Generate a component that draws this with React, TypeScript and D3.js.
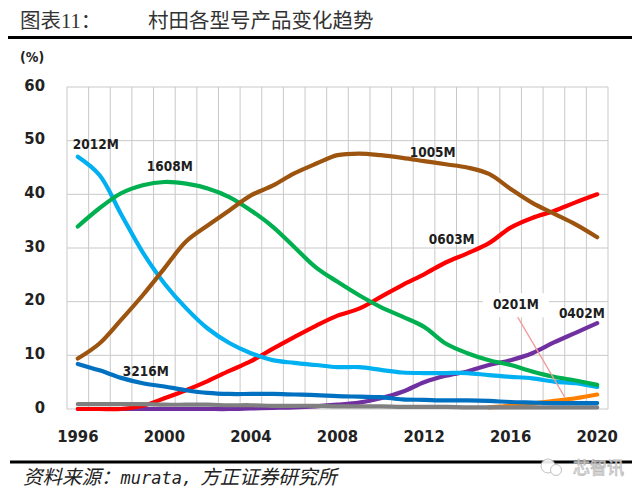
import * as d3 from "d3";

// categories (years)
const years = [
  1996, 1997, 1998, 1999, 2000, 2001, 2002, 2003, 2004, 2005, 2006, 2007, 2008,
  2009, 2010, 2011, 2012, 2013, 2014, 2015, 2016, 2017, 2018, 2019, 2020,
];
const xTickYears = [1996, 2000, 2004, 2008, 2012, 2016, 2020];
const yTicks = [0, 10, 20, 30, 40, 50, 60];

// share of each case size, % (null = not shown)
const s0402M = [0, 0, 0, 0, 0, 0, 0, 0, 0.1, 0.2, 0.3, 0.5, 0.8, 1.2, 2.0, 3.2, 5.0, 6.2, 7.0, 8.2, 9.1, 10.4, 12.4, 14.2, 16.0];
const s0201M = [null, null, null, null, null, null, null, null, null, null, null, null, null, null, null, null, null, null, null, 0.3, 0.6, 1.0, 1.5, 2.0, 2.7];
const s0603M = [0, 0, 0, 0.6, 2.0, 3.5, 5.2, 7.1, 8.9, 11.2, 13.4, 15.5, 17.4, 18.7, 20.9, 23.1, 25.1, 27.3, 29.0, 30.9, 33.8, 35.6, 36.9, 38.5, 40.0];
const sOther = [0.9, 0.9, 0.9, 0.9, 0.8, 0.8, 0.8, 0.7, 0.7, 0.6, 0.6, 0.6, 0.5, 0.5, 0.5, 0.4, 0.4, 0.4, 0.3, 0.3, 0.3, 0.3, 0.3, 0.3, 0.3];
const s3216M = [8.4, 7.2, 5.8, 4.8, 4.2, 3.5, 3.0, 2.8, 2.8, 2.8, 2.7, 2.6, 2.4, 2.3, 2.2, 1.8, 1.7, 1.6, 1.6, 1.5, 1.3, 1.2, 1.1, 1.1, 1.1];
const s2012M = [47, 43.6, 36.3, 29.2, 23.4, 18.8, 15.0, 12.3, 10.4, 9.1, 8.6, 8.2, 7.8, 7.8, 7.3, 6.8, 6.7, 6.7, 6.7, 6.3, 6.0, 5.7, 5.1, 4.8, 4.1];
const s1608M = [34, 37.4, 40.2, 41.7, 42.3, 42.0, 41.1, 39.5, 37.0, 34.0, 30.2, 26.4, 23.7, 21.2, 19.0, 17.2, 15.3, 12.2, 10.4, 9.1, 8.2, 7.0, 6.0, 5.3, 4.5];
const s1005M = [9.4, 12.2, 16.6, 21.2, 26.2, 31.2, 34.2, 37.0, 39.8, 41.6, 43.9, 45.7, 47.3, 47.6, 47.3, 46.8, 46.2, 45.6, 45.0, 43.8, 41.0, 38.4, 36.4, 34.4, 32.0];

// draw order: bottom first
const series = [
  { name: "0201M", color: "#FF8000", values: s0201M },
  { name: "0402M", color: "#7030A0", values: s0402M },
  { name: "0603M", color: "#FF0000", values: s0603M },
  { name: "other", color: "#808080", values: sOther },
  { name: "3216M", color: "#0070C0", values: s3216M },
  { name: "2012M", color: "#00B0F0", values: s2012M },
  { name: "1608M", color: "#00B050", values: s1608M },
  { name: "1005M", color: "#9C540F", values: s1005M },
];

// label anchors in data space (year, value at baseline)
const labels = [
  { text: "2012M", year: 1995.77, value: 48.4 },
  { text: "1608M", year: 1999.19, value: 44.4 },
  { text: "1005M", year: 2011.34, value: 47.0 },
  { text: "0603M", year: 2012.22, value: 30.7 },
  { text: "3216M", year: 1998.08, value: 6.1 },
  { text: "0201M", year: 2015.18, value: 18.6, boxed: true },
  { text: "0402M", year: 2018.23, value: 17.0 },
];

const W = 640;
const H = 496;
const plot = { left: 67, right: 608, top: 87, bottom: 409 };
const tickFont = "'DejaVu Sans Condensed', 'DejaVu Sans', sans-serif";

export default function App() {
  const xBand = d3
    .scaleBand<number>()
    .domain(years)
    .range([plot.left, plot.right])
    .paddingInner(0)
    .paddingOuter(0);
  const bw = xBand.bandwidth();
  const xAt = (yr: number) => (xBand(years[0]) as number) + bw / 2 + (yr - years[0]) * bw;
  const y = d3.scaleLinear().domain([0, 60]).range([plot.bottom, plot.top]);

  const line = d3
    .line<number | null>()
    .defined((d) => d != null)
    .x((_, i) => xAt(years[i]))
    .y((d) => y(d as number))
    .curve(d3.curveCatmullRom.alpha(0.5));

  const vLines = years.map((yr) => xBand(yr) as number).concat([plot.right]);

  return (
    <svg
      width={W}
      height={H}
      style={{ position: "absolute", left: 0, top: 0, background: "#fff" }}
    >
      {/* title */}
      <text
        x={20}
        y={28}
        fontSize={20.5}
        fill="#333"
        fontFamily="'Liberation Serif', 'Noto Sans CJK SC', serif"
      >
        图表11：
      </text>
      <text
        x={148}
        y={28}
        fontSize={20.5}
        fill="#333"
        fontFamily="'Noto Sans CJK SC', sans-serif"
      >
        村田各型号产品变化趋势
      </text>
      <line x1={8} x2={632} y1={37.5} y2={37.5} stroke="#000" strokeWidth={3} />

      {/* unit */}
      <text x={20} y={62} fontSize={14} fontWeight="bold" fill="#222" fontFamily={tickFont}>
        (%)
      </text>

      {/* grid */}
      <g stroke="#C9C9C9" strokeWidth={1}>
        {yTicks.map((t) => (
          <line key={"h" + t} x1={plot.left} x2={plot.right} y1={y(t)} y2={y(t)} />
        ))}
        {vLines.map((vx, i) => (
          <line key={"v" + i} x1={vx} x2={vx} y1={plot.top} y2={plot.bottom} />
        ))}
      </g>

      {/* y ticks */}
      {yTicks.map((t) => (
        <text
          key={"yt" + t}
          x={45}
          y={y(t) - 1}
          textAnchor="end"
          dominantBaseline="middle"
          fontSize={16.5}
          fontWeight="bold"
          fill="#222"
          fontFamily={tickFont}
        >
          {t}
        </text>
      ))}

      {/* x ticks */}
      {xTickYears.map((yr) => (
        <text
          key={"xt" + yr}
          x={xAt(yr)}
          y={442}
          textAnchor="middle"
          fontSize={16.5}
          fontWeight="bold"
          fill="#222"
          fontFamily={tickFont}
        >
          {yr}
        </text>
      ))}

      {/* lines */}
      {series.map((s) => (
        <path
          key={s.name}
          d={line(s.values) ?? ""}
          fill="none"
          stroke={s.color}
          strokeWidth={4.2}
          strokeLinecap="round"
          strokeLinejoin="round"
        />
      ))}

      {/* 0201M leader */}
      <line
        x1={xAt(2016.3)}
        y1={y(17.3)}
        x2={xAt(2018.5)}
        y2={y(2.2)}
        stroke="#F29A9A"
        strokeWidth={1.3}
      />

      {/* labels */}
      {labels.map((l) => (
        <g key={l.text}>
          {l.boxed && (
            <rect
              x={xAt(l.year) - 10}
              y={y(l.value) - 16}
              width={66}
              height={24}
              fill="#fff"
            />
          )}
          <text
            x={xAt(l.year)}
            y={y(l.value)}
            fontSize={13.5}
            fontWeight="bold"
            fill="#1e1e1e"
            fontFamily={tickFont}
          >
            {l.text}
          </text>
        </g>
      ))}

      {/* footer */}
      <line x1={10} x2={632} y1={462} y2={462} stroke="#000" strokeWidth={3} />
      <text x={23} y={484} fontSize={19.5} fill="#222" fontStyle="italic" fontFamily="'Noto Sans CJK SC', sans-serif">
        资料来源：
        <tspan fontFamily="'DejaVu Sans Mono', monospace" fontSize={17}>murata,</tspan>
        <tspan dx={8}>方正证券研究所</tspan>
      </text>

      {/* watermark */}
      <g opacity={0.9}>
        <circle cx={548} cy={466} r={7} fill="#fff" stroke="#bbb" strokeWidth={1} />
        <circle cx={556} cy={470} r={5.5} fill="#fff" stroke="#bbb" strokeWidth={1} />
        <text
          x={573}
          y={474}
          fontSize={17}
          fill="#fff"
          stroke="#b5b5b5"
          strokeWidth={0.8}
          fontFamily="'Noto Sans CJK SC', sans-serif"
        >
          芯智讯
        </text>
      </g>
    </svg>
  );
}
